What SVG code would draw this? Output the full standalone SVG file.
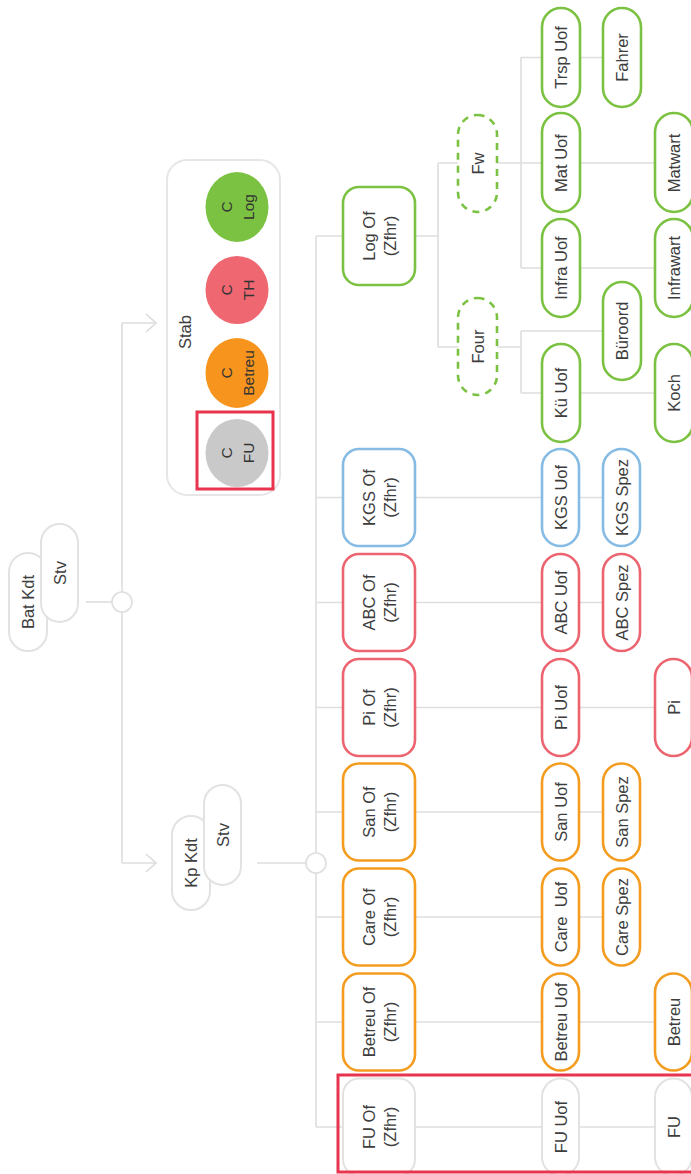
<svg xmlns="http://www.w3.org/2000/svg" width="691" height="1174" viewBox="0 0 691 1174">
<defs>
<style>
.ln{stroke:#dedede;stroke-width:1.6;fill:none}
.t{font-family:"Liberation Sans",Arial,sans-serif;font-size:16.5px;fill:#3d3d3d;text-anchor:middle}
.ct{font-size:15.5px;fill:#333}
.n{fill:#fff;stroke-width:2.6}
.g{stroke:#7cc242}
.gd{stroke:#7cc242;stroke-dasharray:7 6}
.o{stroke:#f39c1f}
.r{stroke:#ec6470}
.b{stroke:#86bbe4}
.gr{stroke:#e2e2e2;stroke-width:2}
.hl{fill:none;stroke:#e8344e;stroke-width:3}
</style>
<marker id="arr" markerUnits="userSpaceOnUse" markerWidth="12" markerHeight="20" refX="10" refY="9" orient="auto" viewBox="-1 -1 12 20">
<path d="M0,0 L10,9 L0,18" fill="none" stroke="#dcdcdc" stroke-width="1.6"/>
</marker>
</defs>
<rect width="691" height="1174" fill="#fff"/>
<g id="connectors">
<path class="ln" d="M86,602 H112"/>
<path class="ln" d="M122,323 V863"/>
<path class="ln" d="M122,323 H156" marker-end="url(#arr)"/>
<path class="ln" d="M122,863 H156" marker-end="url(#arr)"/>
<circle cx="122" cy="602" r="10" fill="#fff" stroke="#dedede" stroke-width="1.6"/>
<path class="ln" d="M257,863 H306"/>
<path class="ln" d="M316,236 V1127"/>
<circle cx="316" cy="863" r="10" fill="#fff" stroke="#dedede" stroke-width="1.6"/>
<path class="ln" d="M316,236 H343 M316,497.5 H343 M316,602.5 H343 M316,707.5 H343 M316,812 H343 M316,917 H343 M316,1022 H343 M316,1127 H343"/>
<path class="ln" d="M415,497.5 H542 M415,602.5 H542 M415,707.5 H542 M415,812 H542 M415,917 H542 M415,1022 H542 M415,1127 H542"/>
<path class="ln" d="M579,497.5 H603 M579,602.5 H603 M579,812 H603 M579,917 H603"/>
<path class="ln" d="M579,707.5 H655 M579,1022 H655 M579,1127 H655"/>
<path class="ln" d="M415,236 H438 M438,163 V347 M438,163 H458 M438,347 H458"/>
<path class="ln" d="M497,163 H542 M521,57.5 V268 M521,57.5 H542 M521,268 H542"/>
<path class="ln" d="M580,57.5 H603 M580,163 H655 M580,268 H655"/>
<path class="ln" d="M497,347 H521 M521,331 V393 M521,331 H603 M521,393 H542 M580,393 H655"/>
</g>
<g id="bat-kdt">
<rect class="n gr" x="9" y="553" width="38" height="98" rx="19"/>
<text class="t" transform="translate(28,602) rotate(-90)" y="6">Bat Kdt</text>
</g>
<g id="bat-stv">
<rect class="n gr" x="41" y="524" width="37" height="98" rx="18.5"/>
<text class="t" transform="translate(59.5,573) rotate(-90)" y="6">Stv</text>
</g>
<g id="kp-kdt">
<rect class="n gr" x="172" y="816" width="38" height="94" rx="19"/>
<text class="t" transform="translate(191,863) rotate(-90)" y="6">Kp Kdt</text>
</g>
<g id="kp-stv">
<rect class="n gr" x="204" y="785" width="37" height="100" rx="18.5"/>
<text class="t" transform="translate(222.5,835) rotate(-90)" y="6">Stv</text>
</g>
<g id="stab">
<rect x="167" y="160" width="113" height="335" rx="20" fill="#fff" stroke="#e6e6e6" stroke-width="2"/>
<text class="t" transform="translate(185,332) rotate(-90)" y="6">Stab</text>
<ellipse cx="237" cy="207" rx="31.5" ry="35" fill="#7cc242"/>
<text class="t ct" transform="translate(237,207) rotate(-90)"><tspan x="0" y="-5.5">C</tspan><tspan x="0" y="16.5">Log</tspan></text>
<ellipse cx="237" cy="290" rx="31.5" ry="34" fill="#ee6771"/>
<text class="t ct" transform="translate(237,290) rotate(-90)"><tspan x="0" y="-5.5">C</tspan><tspan x="0" y="16.5">TH</tspan></text>
<ellipse cx="237" cy="373" rx="31.5" ry="35" fill="#f7941d"/>
<text class="t ct" transform="translate(237,373) rotate(-90)"><tspan x="0" y="-5.5">C</tspan><tspan x="0" y="16.5">Betreu</tspan></text>
<ellipse cx="237" cy="453" rx="31.5" ry="34" fill="#c9c9c9"/>
<text class="t ct" transform="translate(237,453) rotate(-90)"><tspan x="0" y="-5.5">C</tspan><tspan x="0" y="16.5">FU</tspan></text>
<rect class="hl" x="197" y="412" width="76" height="77"/>
</g>
<g id="log-of">
<rect class="n g" x="343" y="187" width="72" height="98" rx="16"/>
<text class="t" transform="translate(379,236) rotate(-90)"><tspan x="0" y="-4.5">Log Of</tspan><tspan x="0" y="16.5">(Zfhr)</tspan></text>
</g>
<g id="fw">
<rect class="n gd" x="458" y="115" width="39" height="97" rx="19.5"/>
<text class="t" transform="translate(477.5,163.5) rotate(-90)" y="6">Fw</text>
</g>
<g id="four">
<rect class="n gd" x="458" y="298" width="39" height="97" rx="19.5"/>
<text class="t" transform="translate(477.5,346.5) rotate(-90)" y="6">Four</text>
</g>
<g id="trsp-uof">
<rect class="n g" x="542" y="8" width="38" height="99" rx="19"/>
<text class="t" transform="translate(561,57.5) rotate(-90)" y="6">Trsp Uof</text>
</g>
<g id="fahrer">
<rect class="n g" x="603" y="8" width="38" height="99" rx="19"/>
<text class="t" transform="translate(622,57.5) rotate(-90)" y="6">Fahrer</text>
</g>
<g id="mat-uof">
<rect class="n g" x="542" y="113" width="38" height="99" rx="19"/>
<text class="t" transform="translate(561,163) rotate(-90)" y="6">Mat Uof</text>
</g>
<g id="matwart">
<rect class="n g" x="655" y="113" width="38" height="99" rx="19"/>
<text class="t" transform="translate(674,163) rotate(-90)" y="6">Matwart</text>
</g>
<g id="infra-uof">
<rect class="n g" x="542" y="219" width="38" height="98" rx="19"/>
<text class="t" transform="translate(561,268) rotate(-90)" y="6">Infra Uof</text>
</g>
<g id="infrawart">
<rect class="n g" x="655" y="219" width="38" height="98" rx="19"/>
<text class="t" transform="translate(674,268) rotate(-90)" y="6">Infrawart</text>
</g>
<g id="bueroord">
<rect class="n g" x="603" y="282" width="38" height="98" rx="19"/>
<text class="t" transform="translate(622,331) rotate(-90)" y="6">Büroord</text>
</g>
<g id="kue-uof">
<rect class="n g" x="542" y="344" width="38" height="98" rx="19"/>
<text class="t" transform="translate(561,393) rotate(-90)" y="6">Kü Uof</text>
</g>
<g id="koch">
<rect class="n g" x="655" y="344" width="38" height="98" rx="19"/>
<text class="t" transform="translate(674,393) rotate(-90)" y="6">Koch</text>
</g>
<g id="kgs-of">
<rect class="n b" x="343" y="449" width="72" height="97" rx="16"/>
<text class="t" transform="translate(379,497.5) rotate(-90)"><tspan x="0" y="-4.5">KGS Of</tspan><tspan x="0" y="16.5">(Zfhr)</tspan></text>
</g>
<g id="kgs-uof">
<rect class="n b" x="542" y="449" width="37" height="97" rx="18.5"/>
<text class="t" transform="translate(560.5,497.5) rotate(-90)" y="6">KGS Uof</text>
</g>
<g id="kgs-spez">
<rect class="n b" x="603" y="449" width="37" height="97" rx="18.5"/>
<text class="t" transform="translate(621.5,497.5) rotate(-90)" y="6">KGS Spez</text>
</g>
<g id="abc-of">
<rect class="n r" x="343" y="554" width="72" height="97" rx="16"/>
<text class="t" transform="translate(379,602.5) rotate(-90)"><tspan x="0" y="-4.5">ABC Of</tspan><tspan x="0" y="16.5">(Zfhr)</tspan></text>
</g>
<g id="abc-uof">
<rect class="n r" x="542" y="554" width="37" height="97" rx="18.5"/>
<text class="t" transform="translate(560.5,602.5) rotate(-90)" y="6">ABC Uof</text>
</g>
<g id="abc-spez">
<rect class="n r" x="603" y="554" width="37" height="97" rx="18.5"/>
<text class="t" transform="translate(621.5,602.5) rotate(-90)" y="6">ABC Spez</text>
</g>
<g id="pi-of">
<rect class="n r" x="343" y="659" width="72" height="97" rx="16"/>
<text class="t" transform="translate(379,707.5) rotate(-90)"><tspan x="0" y="-4.5">Pi Of</tspan><tspan x="0" y="16.5">(Zfhr)</tspan></text>
</g>
<g id="pi-uof">
<rect class="n r" x="542" y="659" width="37" height="97" rx="18.5"/>
<text class="t" transform="translate(560.5,707.5) rotate(-90)" y="6">Pi Uof</text>
</g>
<g id="pi">
<rect class="n r" x="655" y="659" width="37" height="97" rx="18.5"/>
<text class="t" transform="translate(673.5,707.5) rotate(-90)" y="6">Pi</text>
</g>
<g id="san-of">
<rect class="n o" x="343" y="763.5" width="72" height="97" rx="16"/>
<text class="t" transform="translate(379,812) rotate(-90)"><tspan x="0" y="-4.5">San Of</tspan><tspan x="0" y="16.5">(Zfhr)</tspan></text>
</g>
<g id="san-uof">
<rect class="n o" x="542" y="763.5" width="37" height="97" rx="18.5"/>
<text class="t" transform="translate(560.5,812) rotate(-90)" y="6">San Uof</text>
</g>
<g id="san-spez">
<rect class="n o" x="603" y="763.5" width="37" height="97" rx="18.5"/>
<text class="t" transform="translate(621.5,812) rotate(-90)" y="6">San Spez</text>
</g>
<g id="care-of">
<rect class="n o" x="343" y="868.5" width="72" height="97" rx="16"/>
<text class="t" transform="translate(379,917) rotate(-90)"><tspan x="0" y="-4.5">Care Of</tspan><tspan x="0" y="16.5">(Zfhr)</tspan></text>
</g>
<g id="care-uof">
<rect class="n o" x="542" y="868.5" width="37" height="97" rx="18.5"/>
<text class="t" transform="translate(560.5,917) rotate(-90)" y="6" xml:space="preserve">Care  Uof</text>
</g>
<g id="care-spez">
<rect class="n o" x="603" y="868.5" width="37" height="97" rx="18.5"/>
<text class="t" transform="translate(621.5,917) rotate(-90)" y="6">Care Spez</text>
</g>
<g id="betreu-of">
<rect class="n o" x="343" y="973.5" width="72" height="97" rx="16"/>
<text class="t" transform="translate(379,1022) rotate(-90)"><tspan x="0" y="-4.5">Betreu Of</tspan><tspan x="0" y="16.5">(Zfhr)</tspan></text>
</g>
<g id="betreu-uof">
<rect class="n o" x="542" y="973.5" width="37" height="97" rx="18.5"/>
<text class="t" transform="translate(560.5,1022) rotate(-90)" y="6">Betreu Uof</text>
</g>
<g id="betreu">
<rect class="n o" x="655" y="973.5" width="37" height="97" rx="18.5"/>
<text class="t" transform="translate(673.5,1022) rotate(-90)" y="6">Betreu</text>
</g>
<g id="fu-of">
<rect class="n gr" x="343" y="1078.5" width="72" height="97" rx="16"/>
<text class="t" transform="translate(379,1127) rotate(-90)"><tspan x="0" y="-4.5">FU Of</tspan><tspan x="0" y="16.5">(Zfhr)</tspan></text>
</g>
<g id="fu-uof">
<rect class="n gr" x="542" y="1078.5" width="37" height="97" rx="18.5"/>
<text class="t" transform="translate(560.5,1127) rotate(-90)" y="6">FU Uof</text>
</g>
<g id="fu">
<rect class="n gr" x="655" y="1078.5" width="37" height="97" rx="18.5"/>
<text class="t" transform="translate(673.5,1127) rotate(-90)" y="6">FU</text>
</g>
<rect id="fu-highlight" class="hl" x="338" y="1075" width="360" height="97"/>
</svg>
